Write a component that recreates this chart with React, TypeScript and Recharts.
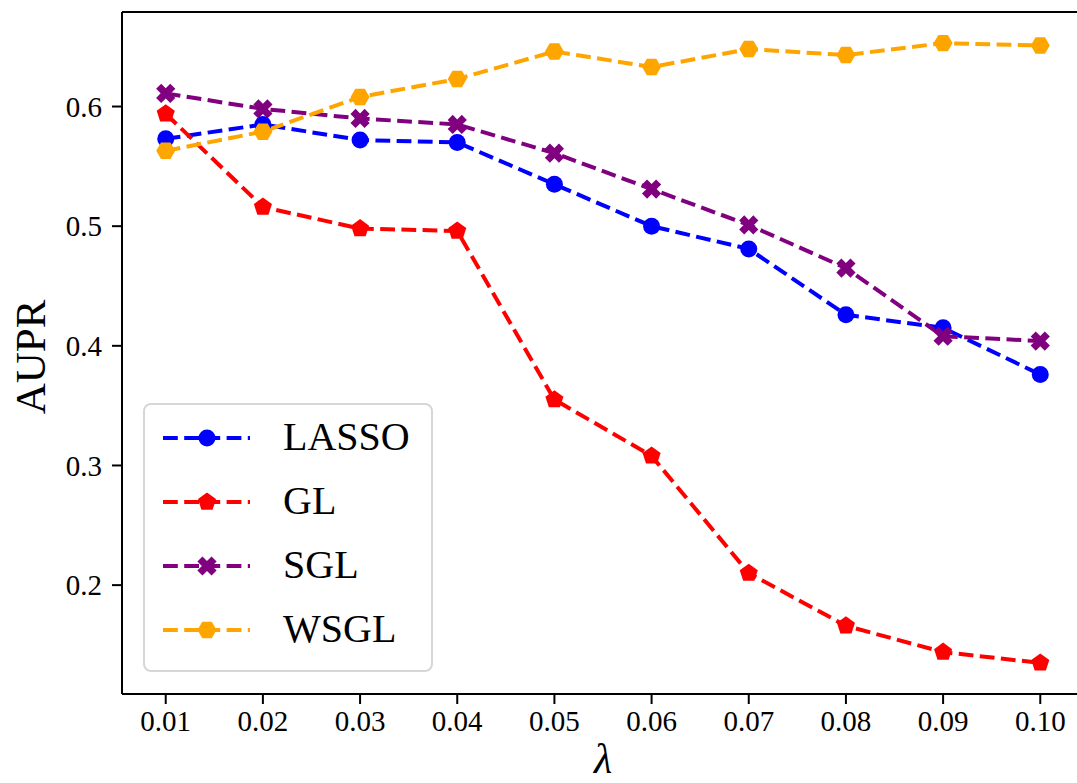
import React from 'react';
import { LineChart, Line, XAxis, YAxis, Legend, ReferenceLine } from 'recharts';

// lambda values on the x axis
const lambdas = [0.01, 0.02, 0.03, 0.04, 0.05, 0.06, 0.07, 0.08, 0.09, 0.1];

// AUPR per method
const lasso = [0.573, 0.585, 0.572, 0.57, 0.535, 0.5, 0.481, 0.426, 0.415, 0.376];
const gl = [0.594, 0.516, 0.498, 0.496, 0.355, 0.308, 0.21, 0.166, 0.144, 0.135];
const sgl = [0.611, 0.598, 0.59, 0.585, 0.561, 0.531, 0.501, 0.465, 0.408, 0.404];
const wsgl = [0.563, 0.579, 0.608, 0.623, 0.646, 0.633, 0.648, 0.643, 0.653, 0.651];

const xTicks = [0.01, 0.02, 0.03, 0.04, 0.05, 0.06, 0.07, 0.08, 0.09, 0.1];
const yTicks = [0.2, 0.3, 0.4, 0.5, 0.6];

const X_DOMAIN: [number, number] = [0.0055, 0.1045];
const Y_DOMAIN: [number, number] = [0.109, 0.679];

const FONT = '"Liberation Serif", "DejaVu Serif", serif';
const DASH = '14.8 6.4';

const series = [
  { key: 'LASSO', color: '#0000ff', marker: 'circle' },
  { key: 'GL', color: '#ff0000', marker: 'pentagon' },
  { key: 'SGL', color: '#800080', marker: 'x' },
  { key: 'WSGL', color: '#ffa500', marker: 'hexagon' },
];

const data = lambdas.map((x, i) => ({
  x,
  LASSO: lasso[i],
  GL: gl[i],
  SGL: sgl[i],
  WSGL: wsgl[i],
}));

const polygon = (n: number, r: number, cx: number, cy: number, start: number) =>
  Array.from({ length: n }, (_, k) => {
    const a = start + (k * 2 * Math.PI) / n;
    return `${cx + r * Math.cos(a)},${cy + r * Math.sin(a)}`;
  }).join(' ');

const xShape = (cx: number, cy: number, r: number) => {
  const a = r * 0.36;
  // plus sign, then rotated 45deg
  const pts = [
    [a, -r], [a, -a], [r, -a], [r, a], [a, a], [a, r],
    [-a, r], [-a, a], [-r, a], [-r, -a], [-a, -a], [-a, -r],
  ];
  const c = Math.SQRT1_2;
  return pts
    .map(([px, py]) => `${cx + (px - py) * c},${cy + (px + py) * c}`)
    .join(' ');
};

const Marker = ({ kind, cx, cy, color }: any) => {
  if (cx == null || cy == null) return null;
  if (kind === 'circle') return <circle cx={cx} cy={cy} r={8.5} fill={color} />;
  if (kind === 'pentagon')
    return <polygon points={polygon(5, 9.5, cx, cy, -Math.PI / 2)} fill={color} />;
  if (kind === 'hexagon')
    return <polygon points={polygon(6, 9.5, cx, cy, 0)} fill={color} />;
  return <polygon points={xShape(cx, cy, 10)} fill={color} />;
};

const LegendBox = () => (
  <div
    style={{
      width: 290,
      height: 269,
      boxSizing: 'border-box',
      border: '2px solid #d6d6d6',
      borderRadius: 8,
      background: 'rgba(255,255,255,0.8)',
      position: 'relative',
    }}
  >
    {series.map((s, i) => {
      const cy = 33 + i * 64;
      return (
        <div key={s.key}>
          <svg
            width={110}
            height={30}
            style={{ position: 'absolute', left: 14, top: cy - 15 }}
          >
            <line
              x1={4}
              x2={91}
              y1={15}
              y2={15}
              stroke={s.color}
              strokeWidth={4}
              strokeDasharray={DASH}
            />
            <Marker kind={s.marker} cx={48} cy={15} color={s.color} />
          </svg>
          <span
            style={{
              position: 'absolute',
              left: 138,
              top: cy - 25,
              fontFamily: FONT,
              fontSize: 40,
              lineHeight: '48px',
              color: '#000',
            }}
          >
            {s.key}
          </span>
        </div>
      );
    })}
  </div>
);

export default function App() {
  return (
    <div
      style={{
        position: 'absolute',
        left: 0,
        top: 0,
        width: 1077,
        height: 783,
        overflow: 'hidden',
        background: '#fff',
      }}
    >
      <LineChart
        width={1094}
        height={783}
        data={data}
        margin={{ top: 12, right: 10, left: 0, bottom: 0 }}
      >
        <XAxis
          dataKey="x"
          type="number"
          domain={X_DOMAIN}
          ticks={xTicks}
          tickFormatter={(v: number) => v.toFixed(2)}
          allowDataOverflow
          height={89}
          tickSize={10}
          tickMargin={6}
          axisLine={{ stroke: '#000', strokeWidth: 2 }}
          tickLine={{ stroke: '#000', strokeWidth: 2 }}
          tick={{ fill: '#000', fontSize: 29, fontFamily: FONT }}
          label={{
            content: ({ viewBox }: any) => (
              <text
                x={viewBox.x + viewBox.width / 2}
                y={773}
                textAnchor="middle"
                fontFamily={FONT}
                fontStyle="italic"
                fontSize={42}
                fill="#000"
              >
                λ
              </text>
            ),
          }}
        />
        <YAxis
          type="number"
          domain={Y_DOMAIN}
          ticks={yTicks}
          tickFormatter={(v: number) => v.toFixed(1)}
          allowDataOverflow
          width={122}
          tickSize={10}
          tickMargin={10}
          axisLine={{ stroke: '#000', strokeWidth: 2 }}
          tickLine={{ stroke: '#000', strokeWidth: 2 }}
          tick={{ fill: '#000', fontSize: 29, fontFamily: FONT }}
          label={{
            content: ({ viewBox }: any) => {
              const cx = 45;
              const cy = viewBox.y + viewBox.height / 2 + 4;
              return (
                <text
                  x={cx}
                  y={cy}
                  transform={`rotate(-90 ${cx} ${cy})`}
                  textAnchor="middle"
                  fontFamily={FONT}
                  fontSize={43}
                  fill="#000"
                >
                  AUPR
                </text>
              );
            },
          }}
        />
        <ReferenceLine y={Y_DOMAIN[1]} stroke="#000" strokeWidth={2} />
        <ReferenceLine x={X_DOMAIN[1]} stroke="#000" strokeWidth={2} />
        {series.map((s) => (
          <Line
            key={s.key}
            dataKey={s.key}
            name={s.key}
            stroke={s.color}
            strokeWidth={4}
            strokeDasharray={DASH}
            isAnimationActive={false}
            dot={(p: any) => (
              <Marker
                key={`${s.key}-${p.index}`}
                kind={s.marker}
                cx={p.cx}
                cy={p.cy}
                color={s.color}
              />
            )}
            activeDot={false}
          />
        ))}
        <Legend
          layout="horizontal"
          verticalAlign="middle"
          align="center"
          content={() => <LegendBox />}
          wrapperStyle={{ position: 'absolute', left: 143, top: 403, width: 290, height: 269 }}
        />
      </LineChart>
    </div>
  );
}
